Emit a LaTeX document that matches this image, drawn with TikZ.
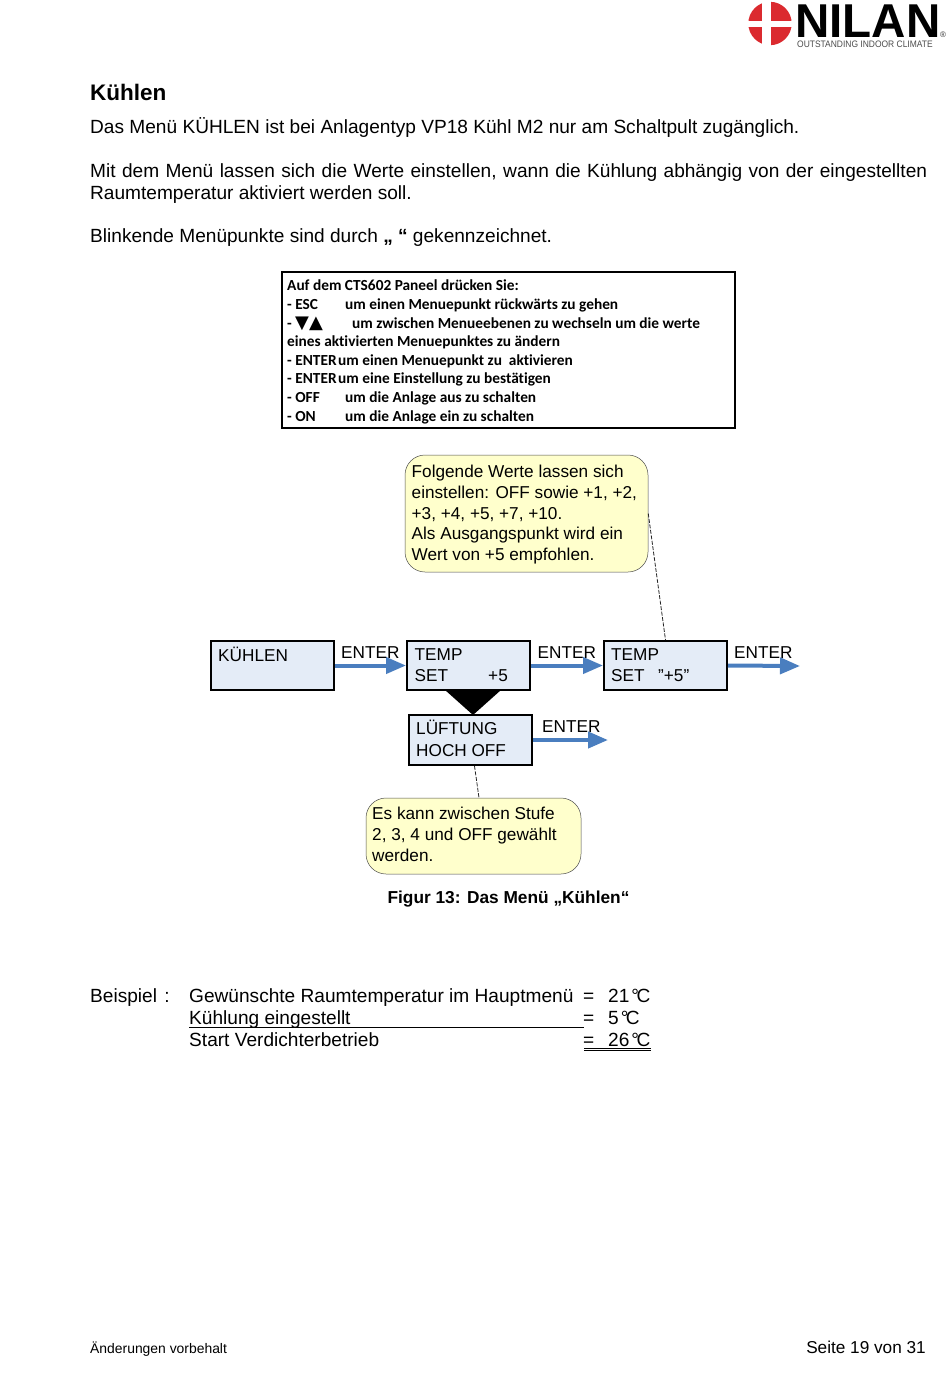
\documentclass[tikz,border=0pt]{standalone}
\usepackage{fontspec}
\setmainfont{Liberation Sans}
\newfontfamily\boxfont[Ligatures=NoCommon]{Carlito}
\newfontfamily\symfont{DejaVu Sans}
\usetikzlibrary{arrows.meta, positioning}
\definecolor{menublue}{HTML}{E4ECF7}
\definecolor{arrowblue}{HTML}{4A7EBF}
\definecolor{noteyellow}{HTML}{FFFFCC}
\definecolor{logored}{HTML}{DB2A2F}
\tikzset{
	line/.style={anchor=base west, inner sep=0pt, font=\fontsize{19.1}{22}\selectfont},
	small/.style={anchor=base west, inner sep=0pt, font=\boxfont\bfseries\fontsize{15.35}{18}\selectfont},
	menu/.style={draw, line width=2pt, fill=menublue, minimum width=123pt, minimum height=49pt, inner sep=0pt},
	menutext/.style={anchor=base west, inner sep=0pt, font=\fontsize{17.2}{21}\selectfont},
	note/.style={draw=black!70, line width=0.5pt, fill=noteyellow, rounded corners=20pt, inner sep=0pt},
	notetext/.style={anchor=north west, inner sep=0pt, align=left, font=\fontsize{17.2}{20.7}\selectfont},
	enter/.style={line width=4pt, draw=arrowblue, -{Triangle[length=20pt, width=16pt, fill=arrowblue]}},
	leader/.style={draw=black!85, line width=0.8pt, dash pattern=on 4pt off 1.5pt},
}
\begin{document}
\begin{tikzpicture}[x=1pt, y=-1pt]
	\useasboundingbox (0,0) rectangle (950,1379);

	% Logo
	\fill[logored] (770,23.5) circle (21.7);
	\fill[white] (762,0) rectangle (771,47);
	\fill[white] (746,20.5) rectangle (794,26.5);
	\node[anchor=base west, inner sep=0pt, font=\bfseries\fontsize{47.5}{47}\selectfont] (logoname) at (795,37.5) {NILAN};
	\node[anchor=base west, inner sep=0pt, text=black!70, xscale=0.9, font=\fontsize{9.4}{10}\selectfont] (logotag) at (797,47) {OUTSTANDING INDOOR CLIMATE};
	\node[anchor=base west, inner sep=0pt, text=black!80, font=\fontsize{8}{8}\selectfont] (logoreg) at (940,37) {®};

	% Text on top
	\node[line, font=\bfseries\fontsize{22.5}{25}\selectfont] (title) at (90,100) {Kühlen};
	\node[line] (intro) at (90,133) {Das Menü KÜHLEN ist bei Anlagentyp VP18 Kühl M2 nur am Schaltpult zugänglich.};
	\node[line] (introa) at (90,177) {\hbox to 837pt{Mit dem Menü lassen sich die Werte einstellen, wann die Kühlung abhängig von der eingestellten}};
	\node[line] (introb) at (90,199) {Raumtemperatur aktiviert werden soll.};
	\node[line] (blink) at (90,242) {Blinkende Menüpunkte sind durch {\bfseries „ “} gekennzeichnet.};

	% Draw the panel box
	\node[draw, line width=1.3pt, minimum width=453pt, minimum height=156pt, inner sep=0pt] (panel) at (508.5,350) {};
	\node[small] (pa) at (287,290.5) {Auf dem CTS602 Paneel drücken Sie:};
	\node[small] (pb) at (287,309.5) {- ESC};
	\node[small] (pbb) at (345,309.5) {um einen Menuepunkt rückwärts zu gehen};
	\node[small] (pc) at (287,328) {-};
	\node[anchor=base west, inner sep=0pt, font=\symfont\fontsize{18}{18}\selectfont] (pcs) at (295,328) {▼▲};
	\node[small] (pcc) at (352,328) {um zwischen Menueebenen zu wechseln um die werte};
	\node[small] (pd) at (287,346.5) {eines aktivierten Menuepunktes zu ändern};
	\node[small] (pe) at (287,365) {- ENTER};
	\node[small] (pee) at (338,365) {um einen Menuepunkt zu\ \ aktivieren};
	\node[small] (pf) at (287,383.5) {- ENTER};
	\node[small] (pff) at (338,383.5) {um eine Einstellung zu bestätigen};
	\node[small] (pg) at (287,402) {- OFF};
	\node[small] (pgg) at (345,402) {um die Anlage aus zu schalten};
	\node[small] (ph) at (287,421) {- ON};
	\node[small] (phh) at (345,421) {um die Anlage ein zu schalten};

	% Draw the callouts
	\node[note, minimum width=243pt, minimum height=117pt] (noteup) at (526.5,513.5) {};
	\node[notetext] (noteuptext) at (411.5,465) {Folgende Werte lassen sich\\einstellen: OFF sowie +1, +2,\\+3, +4, +5, +7, +10.\\Als Ausgangspunkt wird ein\\Wert von +5 empfohlen.};
	\node[note, minimum width=215pt, minimum height=76pt] (notedown) at (473.5,836) {};
	\node[notetext] (notedowntext) at (372,807) {Es kann zwischen Stufe\\2, 3, 4 und OFF gewählt\\werden.};

	% Draw the menu boxes
	\node[menu] (cool) at (272.5,665.5) {};
	\node[menu] (tempa) at (468.5,665.5) {};
	\node[menu] (tempb) at (665.5,665.5) {};
	\node[menu, minimum height=50pt] (fan) at (470.5,740) {};

	\node[menutext] (cooltext) at (218,661) {KÜHLEN};
	\node[menutext] (tempatext) at (414.5,660) {TEMP};
	\node[menutext] (setatext) at (414.5,681) {SET};
	\node[menutext] (valatext) at (488,681) {+5};
	\node[menutext] (tempbtext) at (611,660) {TEMP};
	\node[menutext] (setbtext) at (611,681) {SET};
	\node[menutext] (valbtext) at (658,681) {"+5"};
	\node[menutext] (fantext) at (416,734) {LÜFTUNG};
	\node[menutext] (fanbtext) at (416,756) {HOCH OFF};

	% Draw the black triangle between the boxes
	\fill (445,690) -- (501,690) -- (473,715) -- cycle;

	% Draw the arrows
	\coordinate (endb) at (800,666);
	\coordinate (endc) at (608,740);
	\draw[enter] (cool.east) -- (tempa.west);
	\draw[enter] (tempa.east) -- (tempb.west);
	\draw[enter] (tempb.east) -- (endb);
	\draw[enter] (fan.east) -- (endc);
	\node[menutext] (entera) at (341,658) {ENTER};
	\node[menutext] (enterb) at (537.5,658) {ENTER};
	\node[menutext] (enterc) at (734,658) {ENTER};
	\node[menutext] (enterd) at (542,732) {ENTER};

	% Draw the dashed leaders
	\draw[leader] (noteup.east) -- (tempb.north);
	\draw[leader] ([xshift=4pt]fan.south) -- ([xshift=5.5pt]notedown.north);

	\node[anchor=base, inner sep=0pt, font=\bfseries\fontsize{17.3}{20}\selectfont] (caption) at (508.5,903) {Figur 13: Das Menü „Kühlen“};

	% Example at the bottom
	\node[line] (exa) at (90,1002) {Beispiel\kern2pt\ :};
	\node[line] (exb) at (189,1002) {Gewünschte Raumtemperatur im Hauptmenü};
	\node[line] (exc) at (189,1024) {Kühlung eingestellt};
	\node[line] (exd) at (189,1046) {Start Verdichterbetrieb};
	\node[line] (exbe) at (583,1002) {=};
	\node[line] (exce) at (583,1024) {=};
	\node[line] (exde) at (583,1046) {=};
	\node[line] (exbv) at (608,1002) {21\kern2pt°\kern-2.5pt C};
	\node[line] (excv) at (608,1024) {5\kern2pt°\kern-2.5pt C};
	\node[line] (exdv) at (608,1046) {26\kern2pt°\kern-2.5pt C};
	\draw[line width=0.9pt] (189,1027) -- (584,1027);
	\draw[line width=0.9pt] (584,1048) -- (651,1048);
	\draw[line width=0.9pt] (584,1050.5) -- (651,1050.5);

	% Footer
	\node[anchor=base west, inner sep=0pt, font=\fontsize{13.9}{16}\selectfont] (footl) at (90,1353) {Änderungen vorbehalt};
	\node[anchor=base east, inner sep=0pt, font=\fontsize{17.2}{20}\selectfont] (footr) at (926,1353) {Seite 19 von 31};
\end{tikzpicture}
\end{document}
